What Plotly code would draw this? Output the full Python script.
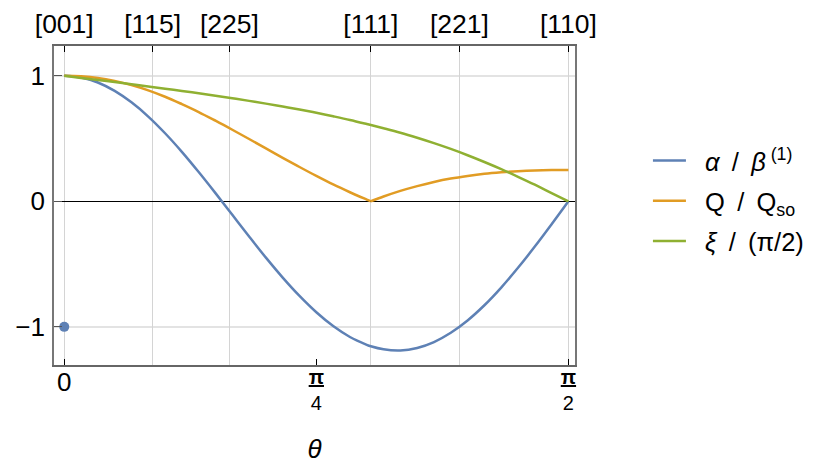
import plotly.graph_objects as go

theta = [0.0000,0.0524,0.1047,0.1571,0.2094,0.2618,0.3142,0.3665,0.4189,0.4712,0.5236,0.5760,0.6283,0.6807,0.7330,0.7854,0.8378,0.8901,0.9425,0.9553,0.9948,1.0472,1.0996,1.1519,1.2043,1.2566,1.3090,1.3614,1.4137,1.4661,1.5184,1.5708]
alpha_beta = [1.000,0.986,0.946,0.879,0.788,0.675,0.542,0.394,0.233,0.065,-0.108,-0.281,-0.449,-0.608,-0.754,-0.884,-0.994,-1.081,-1.143,-1.155,-1.179,-1.188,-1.168,-1.121,-1.047,-0.949,-0.828,-0.687,-0.530,-0.361,-0.183,0.000]
q_qso = [1.000,0.996,0.983,0.959,0.926,0.884,0.833,0.774,0.711,0.642,0.570,0.496,0.421,0.346,0.273,0.202,0.134,0.072,0.014,0.000,0.038,0.083,0.121,0.154,0.181,0.202,0.219,0.231,0.240,0.246,0.249,0.250]
xi_norm = [1.000,0.983,0.967,0.950,0.933,0.915,0.897,0.879,0.861,0.841,0.821,0.800,0.778,0.755,0.731,0.705,0.677,0.648,0.616,0.608,0.582,0.546,0.506,0.463,0.417,0.367,0.313,0.256,0.195,0.132,0.066,0.000]

dot_x = [0.0]
dot_y = [-1.0]

dir_angles = [0.0, 0.2756, 0.5148, 0.9553, 1.2310, 1.5708]
dir_labels = ["[001]", "[115]", "[225]", "[111]", "[221]", "[110]"]

zero_val = [0.0]
zero_text = ["0"]
frac_vals = [0.7854, 1.5708]
frac_text = ["<u><b>π</b></u><br>4", "<u><b>π</b></u><br>2"]

y_vals = [-1, 0, 1]
y_text = ["−1\u200a", "0\u200a", "1\u200a"]

series_names = ["\u00a0\u00a0<i>α</i> \u2009/\u2009 <i>β</i><sup>\u00a0(1)</sup>",
                "\u00a0\u00a0Q \u2009/\u2009 Q<sub>so</sub>",
                "\u00a0\u00a0<i>ξ</i> \u2009/\u2009 (π/2)"]

blue = "#5E81B5"
orange = "#E19C24"
green = "#8FB032"
font = "Liberation Sans, Arial, sans-serif"

cusp = q_qso.index(min(q_qso))

fig = go.Figure()
fig.add_trace(go.Scatter(x=theta, y=alpha_beta, mode="lines", line=dict(color=blue, width=2.5, shape="spline"),
                         name=series_names[0], legendgroup="a"))
fig.add_trace(go.Scatter(x=theta[:cusp + 1], y=q_qso[:cusp + 1], mode="lines",
                         line=dict(color=orange, width=2.5, shape="spline"),
                         name=series_names[1], legendgroup="b"))
fig.add_trace(go.Scatter(x=theta[cusp:], y=q_qso[cusp:], mode="lines",
                         line=dict(color=orange, width=2.5, shape="spline"),
                         name=series_names[1], legendgroup="b", showlegend=False))
fig.add_trace(go.Scatter(x=theta, y=xi_norm, mode="lines", line=dict(color=green, width=2.5, shape="spline"),
                         name=series_names[2], legendgroup="c"))
fig.add_trace(go.Scatter(x=dot_x, y=dot_y, mode="markers", marker=dict(color=blue, size=10),
                         showlegend=False, cliponaxis=False))
fig.add_trace(go.Scatter(x=dir_angles, y=[0]*len(dir_angles), xaxis="x2", mode="markers",
                         marker=dict(opacity=0), showlegend=False, hoverinfo="skip"))
fig.add_trace(go.Scatter(x=frac_vals, y=[0]*len(frac_vals), xaxis="x3", mode="markers",
                         marker=dict(opacity=0), showlegend=False, hoverinfo="skip"))

xr = [-0.0319, 1.5913]
common = dict(range=xr, automargin=False, zeroline=False, ticks="inside", ticklen=6,
              tickcolor="black", tickwidth=1)
fig.update_layout(
    width=813, height=456,
    margin=dict(l=46, r=239, t=38, b=99),
    paper_bgcolor="white", plot_bgcolor="white",
    font=dict(family=font, size=26, color="black"),
    showlegend=True,
    legend=dict(x=1.14, y=0.514, xanchor="left", yanchor="middle",
                font=dict(size=25.5, family=font), tracegroupgap=4,
                itemwidth=33, bgcolor="rgba(0,0,0,0)"),
    xaxis=dict(**common, tickvals=zero_val, ticktext=zero_text, showgrid=False,
               showline=True, linecolor="#666", linewidth=1.5,
               tickfont=dict(size=26), ticklabelstandoff=-7,
               title=dict(text="<i>θ</i>", font=dict(size=26), standoff=50)),
    xaxis3=dict(**common, overlaying="x", side="bottom", anchor="y", tickvals=frac_vals, ticktext=frac_text,
                showgrid=False, showline=False, tickfont=dict(size=20), ticklabelstandoff=-2),
    xaxis2=dict(**common, overlaying="x", side="top", anchor="y", tickvals=dir_angles, ticktext=dir_labels,
                showgrid=True, gridcolor="#d4d4d4", gridwidth=1,
                showline=True, linecolor="#666", linewidth=1.5, tickfont=dict(size=26.5),
                ticklabelstandoff=1),
    yaxis=dict(range=[-1.304, 1.237], automargin=False, tickvals=y_vals, ticktext=y_text,
               showgrid=True, gridcolor="#e3e3e3", gridwidth=2,
               zeroline=True, zerolinecolor="black", zerolinewidth=1.2,
               ticks="inside", ticklen=8, tickcolor="#555",
               showline=True, linecolor="#777", linewidth=1.5, mirror=True,
               tickfont=dict(size=26)),
)
fig.write_html("out.html")
